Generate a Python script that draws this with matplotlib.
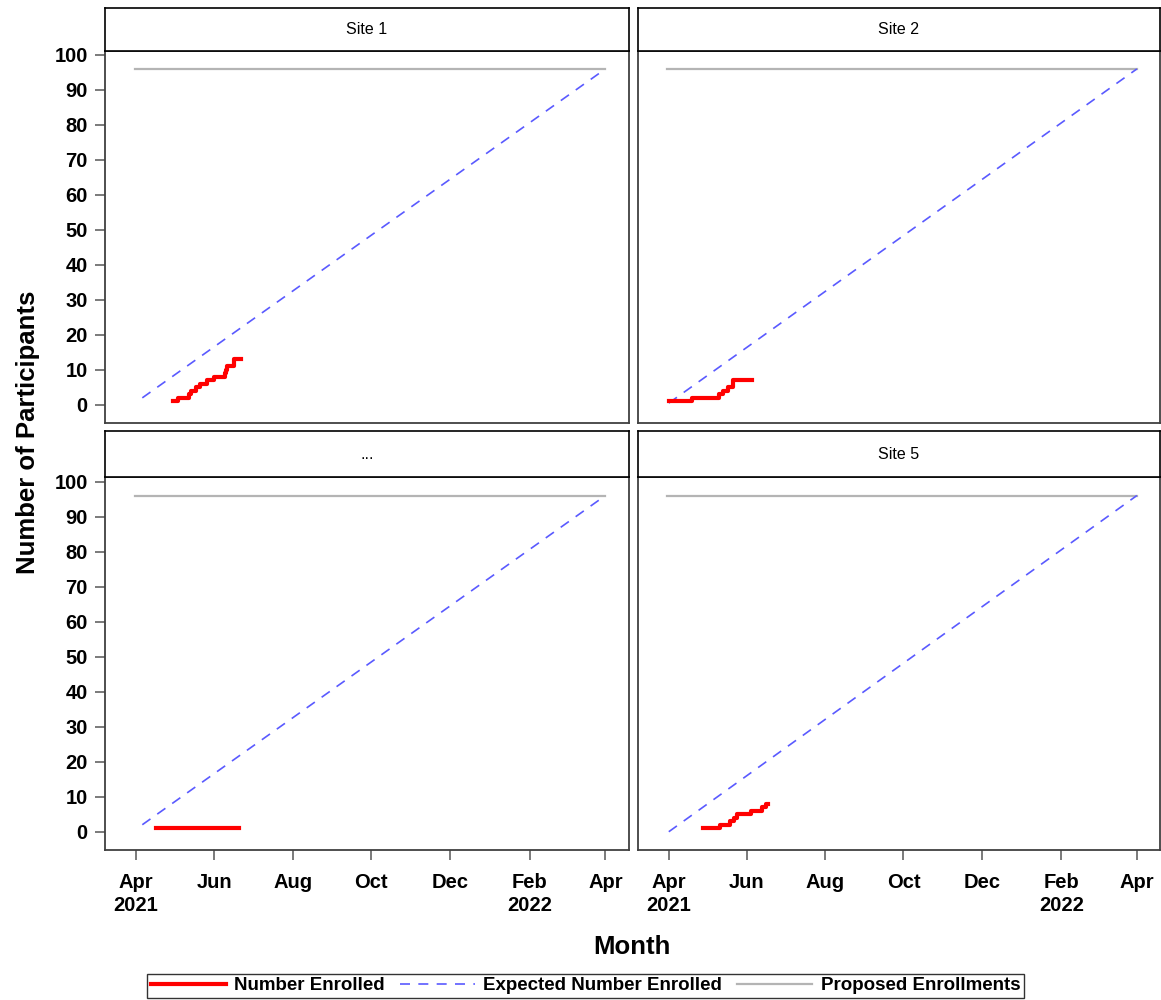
import matplotlib
matplotlib.use("Agg")
import matplotlib.pyplot as plt
from matplotlib.lines import Line2D
import numpy as np

plt.rcParams['font.family'] = ['Liberation Sans', 'DejaVu Sans']

# ---------------- data ----------------
sites = ["Site 1", "Site 2", "...", "Site 5"]

site1_dates = ["2021-04-30", "2021-05-04", "2021-05-12", "2021-05-14", "2021-05-18", "2021-05-21",
               "2021-05-26", "2021-06-01", "2021-06-09", "2021-06-10", "2021-06-11", "2021-06-16", "2021-06-22"]
site1_counts = [1, 2, 3, 4, 5, 6, 7, 8, 9, 10, 11, 13, 13]

site2_dates = ["2021-04-01", "2021-04-19", "2021-05-10", "2021-05-13", "2021-05-17", "2021-05-21", "2021-06-05"]
site2_counts = [1, 2, 3, 4, 5, 7, 7]

site3_dates = ["2021-04-17", "2021-06-20"]
site3_counts = [1, 1]

site5_dates = ["2021-04-28", "2021-05-11", "2021-05-19", "2021-05-22", "2021-05-24", "2021-06-04",
               "2021-06-13", "2021-06-16", "2021-06-17"]
site5_counts = [1, 2, 3, 4, 5, 6, 7, 8, 8]

enrolled_dates = [site1_dates, site2_dates, site3_dates, site5_dates]
enrolled_counts = [site1_counts, site2_counts, site3_counts, site5_counts]

expected_start_dates = ["2021-04-06", "2021-04-01", "2021-04-06", "2021-04-01"]
expected_start_values = [2, 0.5, 2, 0]
expected_end_date = "2022-04-01"
expected_end_value = 96

proposed_start_date = "2021-03-31"
proposed_end_date = "2022-04-01"
proposed_value = 96

xtick_dates = ["2021-04-01", "2021-06-01", "2021-08-01", "2021-10-01", "2021-12-01", "2022-02-01", "2022-04-01"]
xtick_labels = ["Apr\n2021", "Jun", "Aug", "Oct", "Dec", "Feb\n2022", "Apr"]
yticks = list(range(0, 101, 10))

legend_labels = ["Number Enrolled", "Expected Number Enrolled", "Proposed Enrollments"]

# ---------------- styling ----------------
RED = "#ff0000"
BLUE = "#5a5aff"
GRAY = "#b4b4b4"
SPINE = "#404040"

W, H = 1161, 1000
fig = plt.figure(figsize=(W / 100, H / 100), dpi=100)

def d(s):
    return np.datetime64(s)

# panel geometry in pixels (left, right, top, bottom)
cols = [(105, 628.6), (638, 1160)]
rows = [(50.7, 422.7), (477.3, 849.6)]
strip_tops = [8, 431]

xlim = (d("2021-03-08"), d("2022-04-19"))

for i, name in enumerate(sites):
    r, c = divmod(i, 2)
    x0, x1 = cols[c]
    y0, y1 = rows[r]
    ax = fig.add_axes([x0 / W, 1 - y1 / H, (x1 - x0) / W, (y1 - y0) / H])
    # strip
    st = strip_tops[r]
    sax = fig.add_axes([x0 / W, 1 - y0 / H, (x1 - x0) / W, (y0 - st) / H])
    sax.set_xticks([]); sax.set_yticks([])
    for sp in sax.spines.values():
        sp.set_color("black"); sp.set_linewidth(1.2)
    sax.text(0.5, 0.5, name, ha="center", va="center", fontsize=11.5, transform=sax.transAxes)

    # proposed
    ax.plot([d(proposed_start_date), d(proposed_end_date)], [proposed_value, proposed_value],
            color=GRAY, lw=1.6, zorder=2)
    # expected
    ax.plot([d(expected_start_dates[i]), d(expected_end_date)],
            [expected_start_values[i], expected_end_value],
            color=BLUE, lw=1.2, dashes=(6, 5), zorder=3)
    # enrolled
    ax.step([d(s) for s in enrolled_dates[i]], enrolled_counts[i], where="post",
            color=RED, lw=3, zorder=4)

    ax.set_xlim(xlim)
    ax.set_ylim(-5.1, 101.2)
    for sp in ax.spines.values():
        sp.set_color(SPINE); sp.set_linewidth(1.3)
    ax.set_yticks(yticks)
    ax.set_xticks([d(s) for s in xtick_dates])
    ax.tick_params(axis="both", direction="out", length=7.5, width=1.3, color="#707070")
    if c == 0:
        ax.set_yticklabels([str(v) for v in yticks], fontsize=14.5, fontweight="bold")
        ax.tick_params(axis="y", pad=5)
    else:
        ax.tick_params(axis="y", left=False, labelleft=False)
    if r == 1:
        ax.set_xticklabels(xtick_labels, fontsize=14.5, fontweight="bold", linespacing=1.3)
        ax.tick_params(axis="x", pad=9)
    else:
        ax.tick_params(axis="x", bottom=False, labelbottom=False)

fig.text(28 / W, 1 - 432 / H, "Number of Participants", rotation=90, ha="center", va="center",
         fontsize=18.5, fontweight="bold")
fig.text(632 / W, 1 - 947 / H, "Month", ha="center", va="center", fontsize=18.5, fontweight="bold")

handles = [Line2D([], [], color=RED, lw=3),
           Line2D([], [], color=BLUE, lw=1.2, dashes=(6, 5)),
           Line2D([], [], color=GRAY, lw=1.6)]
leg = fig.legend(handles, legend_labels, loc="lower center", bbox_to_anchor=(585.5 / W, 0.0),
                 ncol=3, frameon=True, fancybox=False, edgecolor="black", handlelength=4.0,
                 handletextpad=0.45, columnspacing=0.8, borderpad=0.2, borderaxespad=0.1,
                 prop={"weight": "bold", "size": 13.5})
leg.get_frame().set_linewidth(1.0)

fig.savefig("out.png", dpi=100)
